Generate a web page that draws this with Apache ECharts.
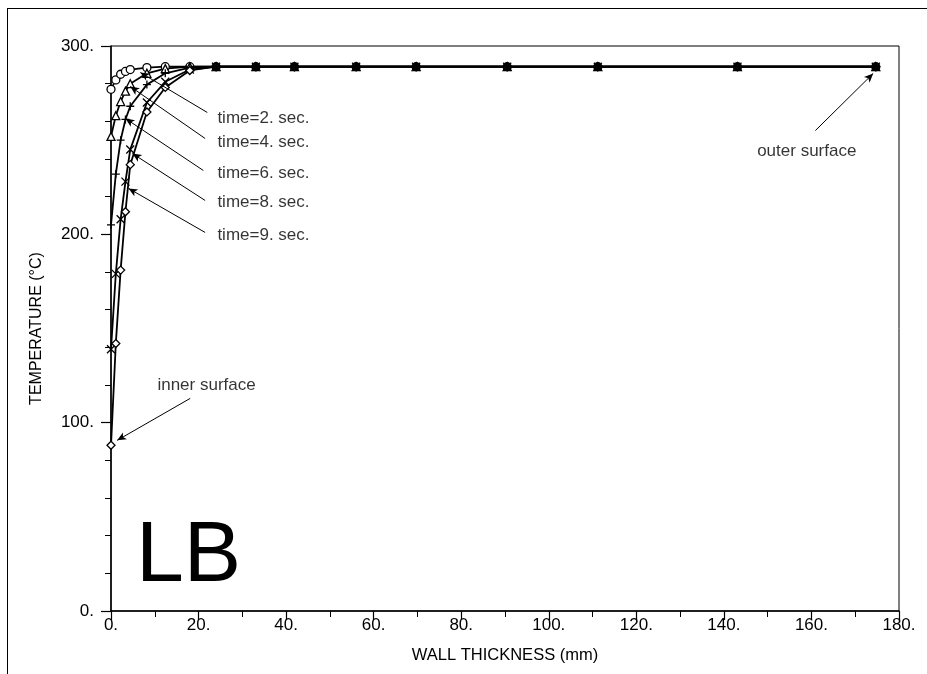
<!DOCTYPE html>
<html>
<head>
<meta charset="utf-8">
<script src="https://cdn.jsdelivr.net/npm/echarts@6/dist/echarts.min.js"></script>
<style>
    html, body { margin: 0; padding: 0; background: #fff; }
    #frame { position: absolute; left: 7px; top: 8px; right: 0; bottom: 0; border-left: 1px solid #000; border-top: 1px solid #000; }
    #chart { position: absolute; left: 0; top: 0; width: 927px; height: 674px; }
</style>
</head>
<body>
<div id="frame"></div>
<div id="chart"></div>
<script>
// --- nodes through the wall (mm) ---
const nodes = [0, 1.1, 2.2, 3.3, 4.4, 8.2, 12.4, 18.0, 24.0, 33.1, 41.9, 56.0, 69.7, 90.5, 111.2, 143.1, 174.7];

// --- temperature profiles (°C) ---
const temp2s = [277, 282, 285, 286.5, 287.5, 288.5, 289, 289, 289, 289, 289, 289, 289, 289, 289, 289, 289];
const temp4s = [252, 263, 270.5, 276, 280, 285.5, 288, 289, 289, 289, 289, 289, 289, 289, 289, 289, 289];
const temp6s = [205, 232, 250, 261, 268, 279.5, 285.5, 288.5, 289, 289, 289, 289, 289, 289, 289, 289, 289];
const temp8s = [139, 179, 208, 228, 245, 270, 281, 287.5, 289, 289, 289, 289, 289, 289, 289, 289, 289];
const temp9s = [88, 142, 181, 212, 237, 265, 278, 287, 289, 289, 289, 289, 289, 289, 289, 289, 289];

// --- annotations (data coords) ---
const noteText = ['time=2. sec.', 'time=4. sec.', 'time=6. sec.', 'time=8. sec.', 'time=9. sec.', 'inner surface', 'outer surface'];
const noteX = [24.3, 24.3, 24.3, 24.3, 24.3, 10.6, 147.6];
const noteY = [261.4, 248.8, 232.2, 216.9, 199.4, 119.8, 244.0];
const leaderFrom = [[22.0, 264.7], [21.5, 250.9], [21.1, 233.9], [21.5, 218.0], [21.5, 201.0], [18.1, 112.9], [160.9, 255.1]];
const leaderTo = [[6.7, 285.9], [4.4, 278.5], [3.3, 261.5], [4.9, 242.9], [4.0, 224.4], [1.4, 90.6], [174.1, 285.4]];

const FONT = 'Liberation Sans, Arial, Helvetica, sans-serif';

const profiles = [
    { name: 'time=2', values: temp2s, symbol: 'circle' },
    { name: 'time=4', values: temp4s, symbol: 'triangle' },
    { name: 'time=6', values: temp6s, symbol: 'path://M5,0L5,10M0,5L10,5' },
    { name: 'time=8', values: temp8s, symbol: 'path://M0,0L10,10M10,0L0,10' },
    { name: 'time=9', values: temp9s, symbol: 'diamond' }
];

// where every profile sits on the same point the stacked hollow markers print as a solid blob
const allSame = nodes.map((x, i) => profiles.every(p => p.values[i] === profiles[0].values[i]));

const chart = echarts.init(document.getElementById('chart'));

const series = profiles.map(p => ({
    name: p.name,
    type: 'line',
    data: nodes.map((x, i) => allSame[i]
        ? { value: [x, p.values[i]], itemStyle: { color: '#000' } }
        : [x, p.values[i]]),
    symbol: p.symbol,
    symbolSize: 8,
    showAllSymbol: true,
    lineStyle: { color: '#000', width: 1.8 },
    itemStyle: { color: '#fff', borderColor: '#000', borderWidth: 1.3 },
    animation: false
}));

// leader lines with arrow heads
series.push({
    name: 'leaders',
    type: 'line',
    data: [],
    animation: false,
    markLine: {
        silent: true,
        animation: false,
        symbol: ['none', 'arrow'],
        symbolSize: [6, 9],
        label: { show: false },
        lineStyle: { color: '#000', width: 1, type: 'solid' },
        data: leaderFrom.map((f, i) => [{ coord: f }, { coord: leaderTo[i] }])
    }
});

// annotation texts
series.push({
    name: 'notes',
    type: 'scatter',
    symbolSize: 0,
    silent: true,
    animation: false,
    data: noteText.map((t, i) => ({ name: t, value: [noteX[i], noteY[i]] })),
    label: {
        show: true, position: 'right', distance: 0, formatter: '{b}',
        color: '#000', fontFamily: FONT, fontSize: 17
    }
});

chart.setOption({
    animation: false,
    grid: { left: 111, right: 28, top: 46, bottom: 63, show: true, borderColor: '#000', borderWidth: 1 },
    xAxis: {
        type: 'value', min: 0, max: 180, interval: 20,
        name: 'WALL THICKNESS (mm)', nameLocation: 'middle', nameGap: 36,
        nameTextStyle: { color: '#000', fontFamily: FONT, fontSize: 16.5 },
        axisLine: { lineStyle: { color: '#000', width: 1.5 } },
        axisTick: { length: 9, lineStyle: { color: '#000', width: 1.2 } },
        minorTick: { show: true, splitNumber: 2, length: 6, lineStyle: { color: '#000', width: 1 } },
        axisLabel: { formatter: v => v + '.', color: '#000', fontFamily: FONT, fontSize: 17, margin: 6 },
        splitLine: { show: false }
    },
    yAxis: {
        type: 'value', min: 0, max: 300, interval: 100,
        name: 'TEMPERATURE (°C)', nameLocation: 'middle', nameGap: 66,
        nameTextStyle: { color: '#000', fontFamily: FONT, fontSize: 16 },
        axisLine: { lineStyle: { color: '#000', width: 1.5 } },
        axisTick: { length: 10, lineStyle: { color: '#000', width: 1.2 } },
        minorTick: { show: true, splitNumber: 5, length: 6, lineStyle: { color: '#000', width: 1 } },
        axisLabel: { formatter: v => v + '.', color: '#000', fontFamily: FONT, fontSize: 17, margin: 17 },
        splitLine: { show: false }
    },
    graphic: [{
        type: 'text', left: 136, top: 514,
        style: { text: 'LB', fill: '#000', font: '86px ' + FONT }
    }],
    series: series
});
</script>
</body>
</html>
